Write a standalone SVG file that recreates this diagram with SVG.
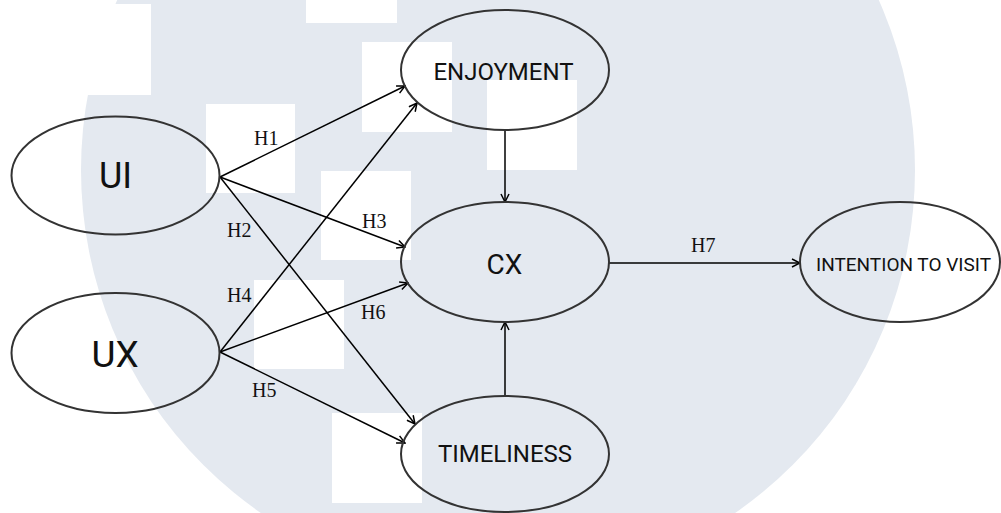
<svg xmlns="http://www.w3.org/2000/svg" width="1001" height="513" viewBox="0 0 1001 513">
  <style>
    .node { fill: none; stroke: #333; stroke-width: 2; }
    .name { font-family: Roboto, "Liberation Sans", sans-serif; fill: #111; text-anchor: middle; }
    .edge { stroke: #000; stroke-width: 1.5; fill: none; marker-end: url(#arr); }
    .hyp { font-family: "Liberation Serif", serif; font-size: 20px; fill: #111; }
    .tile { fill: #fff; }
  </style>
  <defs>
    <marker id="arr" viewBox="0 0 10 10" refX="9" refY="5" markerWidth="10" markerHeight="10" markerUnits="userSpaceOnUse" orient="auto">
      <path d="M1,1 L9,5 L1,9" fill="none" stroke="#000" stroke-width="1.5"/>
    </marker>
  </defs>

  <!-- page background with faint emblem -->
  <rect width="1001" height="513" fill="#fff"/>
  <g id="emblem">
    <circle cx="498" cy="170" r="417" fill="#e4e9f0"/>
    <rect class="tile" x="61" y="4" width="90" height="91"/>
    <rect class="tile" x="306" y="-67" width="91" height="90"/>
    <rect class="tile" x="362" y="42" width="90" height="90"/>
    <rect class="tile" x="487" y="80" width="90" height="90"/>
    <rect class="tile" x="206" y="104" width="89" height="89"/>
    <rect class="tile" x="321" y="171" width="90" height="89"/>
    <rect class="tile" x="254" y="280" width="90" height="89"/>
    <rect class="tile" x="332" y="413" width="90" height="90"/>
  </g>

  <!-- connectors -->
  <g id="connectors">
    <path class="edge" d="M220,177 L405,86"/>
    <path class="edge" d="M220,177 L415,424"/>
    <path class="edge" d="M220,177 L405,247"/>
    <path class="edge" d="M220,352 L417,103"/>
    <path class="edge" d="M220,352 L405,443"/>
    <path class="edge" d="M220,352 L408,283"/>
    <path class="edge" d="M505,130 L505,202"/>
    <path class="edge" d="M505,396 L505,322"/>
    <path class="edge" d="M609,263 L800,263"/>
    <text class="hyp" x="254" y="145">H1</text>
    <text class="hyp" x="227" y="237">H2</text>
    <text class="hyp" x="362" y="228">H3</text>
    <text class="hyp" x="227" y="302">H4</text>
    <text class="hyp" x="252" y="397">H5</text>
    <text class="hyp" x="361" y="319">H6</text>
    <text class="hyp" x="691" y="252">H7</text>
  </g>

  <!-- nodes -->
  <g id="ui">
    <ellipse class="node" cx="115.5" cy="175.5" rx="104" ry="59"/>
    <text class="name" x="115.5" y="188" font-size="36">UI</text>
  </g>
  <g id="ux">
    <ellipse class="node" cx="115.5" cy="353" rx="104" ry="60"/>
    <text class="name" x="115" y="367" font-size="37">UX</text>
  </g>
  <g id="enjoyment">
    <ellipse class="node" cx="505" cy="70" rx="104" ry="60"/>
    <text class="name" x="503.5" y="80" font-size="24">ENJOYMENT</text>
  </g>
  <g id="cx">
    <ellipse class="node" cx="505" cy="262" rx="104" ry="60"/>
    <text class="name" x="504.5" y="274" font-size="28">CX</text>
  </g>
  <g id="timeliness">
    <ellipse class="node" cx="505" cy="454" rx="104" ry="58"/>
    <text class="name" x="505" y="462" font-size="24">TIMELINESS</text>
  </g>
  <g id="intention">
    <ellipse class="node" cx="900" cy="262" rx="100" ry="60"/>
    <text class="name" x="903.5" y="271" font-size="19">INTENTION TO VISIT</text>
  </g>
</svg>
